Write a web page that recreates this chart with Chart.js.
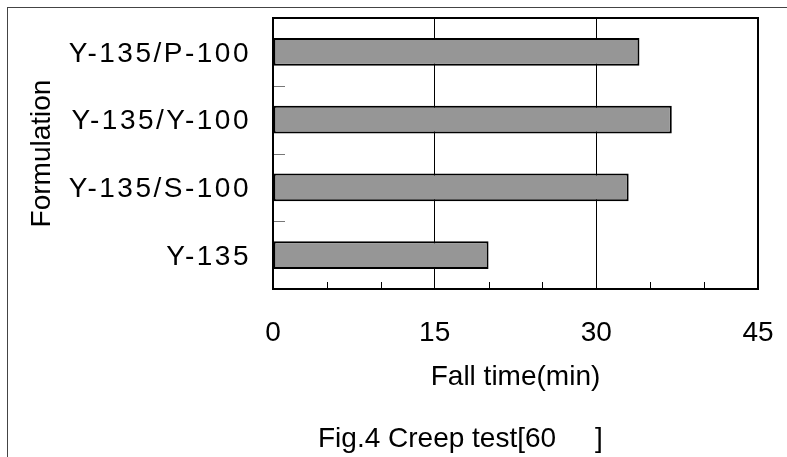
<!DOCTYPE html>
<html>
<head>
<meta charset="utf-8">
<script src="https://cdn.jsdelivr.net/npm/chart.js@4"></script>
<style>
  html, body { margin: 0; padding: 0; background: #fff; }
  #wrap { position: relative; width: 787px; height: 457px; overflow: hidden; }
  #frame { position: absolute; left: 7px; top: 7px; width: 900px; height: 600px;
           border-top: 1px solid #444; border-left: 1px solid #444; }
  #chart { position: absolute; left: 0; top: 0; }
  #caption { position: absolute; left: 318px; top: 424px; color: #000;
             font: 28px "Liberation Sans", Arial, sans-serif; line-height: 28px; white-space: pre; }
</style>
</head>
<body>
<div id="wrap">
  <div id="frame"></div>
  <canvas id="chart" width="787" height="457"></canvas>
  <div id="caption">Fig.4 Creep test[60     ]</div>
</div>
<script>
// Creep test - fall time per formulation
const formulations = ['Y-135/P-100', 'Y-135/Y-100', 'Y-135/S-100', 'Y-135']
const fallTimes = [34, 37, 33, 20]
const xLabels = [0, 15, 30, 45]

Chart.defaults.font.family = '"Liberation Sans", Arial, sans-serif'
Chart.defaults.font.size = 28
Chart.defaults.color = '#000'

// plot frame, inward minor ticks, and letter spacing for the category labels
const framePlugin = {
  id: 'framePlugin',
  afterDatasetsDraw(chart) {
    const { ctx, chartArea: a, scales: { x, y } } = chart
    ctx.save()
    ctx.lineWidth = 1
    ctx.strokeStyle = '#000'
    x.ticks.forEach(t => {
      if (xLabels.includes(t.value)) return
      const px = Math.round(x.getPixelForValue(t.value)) + 0.5
      ctx.beginPath()
      ctx.moveTo(px, a.bottom)
      ctx.lineTo(px, a.bottom - 7)
      ctx.stroke()
    })
    ctx.strokeStyle = '#777'
    for (let i = 0; i < formulations.length - 1; i++) {
      const py = Math.round((y.getPixelForValue(i) + y.getPixelForValue(i + 1)) / 2) + 0.5
      ctx.beginPath()
      ctx.moveTo(a.left, py)
      ctx.lineTo(a.left + 12, py)
      ctx.stroke()
    }
    ctx.strokeStyle = '#000'
    ctx.lineWidth = 2
    ctx.strokeRect(a.left, a.top, a.right - a.left, a.bottom - a.top)
    ctx.restore()
    ctx.letterSpacing = '2.5px'
  },
  afterDraw(chart) {
    chart.ctx.letterSpacing = '0px'
  }
}

new Chart(document.getElementById('chart'), {
  type: 'bar',
  data: {
    labels: formulations,
    datasets: [{
      data: fallTimes,
      backgroundColor: '#969696',
      borderColor: '#000',
      borderWidth: 2,
      borderSkipped: false,
      barPercentage: 0.413,
      categoryPercentage: 1
    }]
  },
  options: {
    indexAxis: 'y',
    responsive: false,
    animation: false,
    layout: { padding: { top: 18, right: 29, bottom: 36, left: 0 } },
    plugins: {
      legend: { display: false },
      tooltip: { enabled: false }
    },
    scales: {
      x: {
        min: 0,
        max: 45,
        ticks: {
          stepSize: 5,
          autoSkip: false,
          maxRotation: 0,
          padding: 27,
          callback: v => xLabels.includes(v) ? v : ''
        },
        grid: {
          drawTicks: false,
          lineWidth: 1,
          color: c => c.tick && xLabels.includes(c.tick.value) ? '#000' : 'rgba(0,0,0,0)'
        },
        border: { display: false },
        title: { display: true, text: 'Fall time(min)', padding: { top: 0, bottom: 27 } },
        afterFit: s => {
          s.height = 132
          s.paddingLeft = 0
          s.paddingRight = 0
        }
      },
      y: {
        ticks: { padding: 22, labelOffset: 2, autoSkip: false, z: 1 },
        grid: { display: false, drawTicks: false },
        border: { display: false },
        title: { display: true, text: 'Formulation', padding: { top: 25, bottom: 0 } },
        afterFit: s => {
          s.width = 273
          s.paddingTop = 0
          s.paddingBottom = 0
        }
      }
    }
  },
  plugins: [framePlugin]
})
</script>
</body>
</html>
